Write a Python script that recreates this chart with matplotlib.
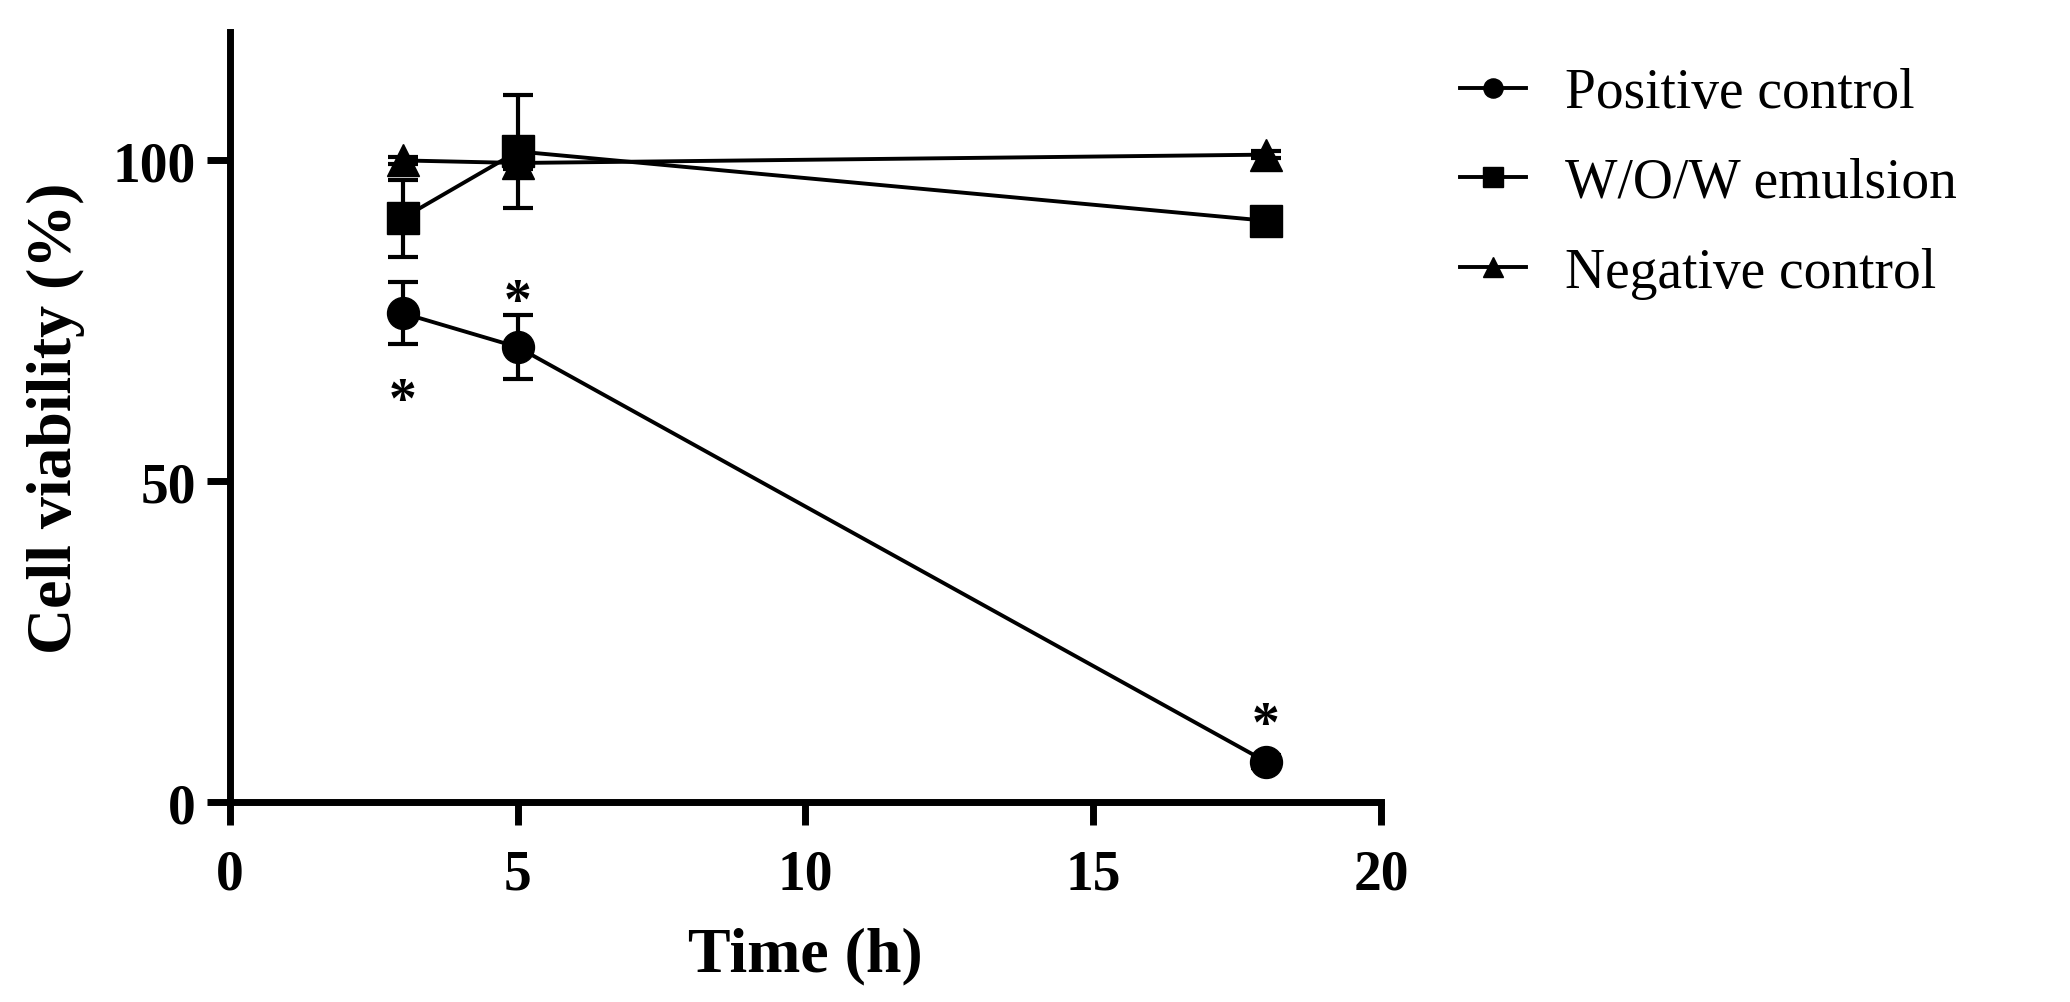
import matplotlib
matplotlib.use("Agg")
import matplotlib.pyplot as plt

# data
time_h = [3, 5, 18]
positive = [76.2, 70.9, 6.3]
positive_err = [4.8, 5.0, 1.0]
emulsion = [91.0, 101.4, 90.6]
emulsion_err = [6.0, 8.8, 1.0]
negative = [100.0, 99.6, 100.9]
negative_err = [0.5, 1.0, 0.5]
labels = ["Positive control", "W/O/W emulsion", "Negative control"]
star_x = [3, 5, 18]
star_y = [64.3, 79.8, 13.8]

plt.rcParams['font.family'] = ['Liberation Serif', 'DejaVu Serif']

fig = plt.figure(figsize=(20.7, 10.03), dpi=100)
ax = fig.add_axes([0.1111, 0.1994, 0.5560, 0.7676])

series = [(positive, positive_err, 'o'), (emulsion, emulsion_err, 's'), (negative, negative_err, '^')]
for (vals, errs, mk), lab in zip(series, labels):
    ax.errorbar(time_h, vals, yerr=errs, fmt='none', ecolor='black',
                elinewidth=3, capsize=11, capthick=3, zorder=2)
    ax.plot(time_h, vals, color='black', linewidth=2.8, marker=mk,
            markersize=23, markerfacecolor='black', markeredgecolor='black',
            label=lab, zorder=3)

# significance marks
for sx, sy in zip(star_x, star_y):
    ax.annotate('*', (sx, sy), xytext=(0, -9), textcoords='offset points',
                ha='center', va='center', fontsize=40, fontweight='bold')

ax.set_xlim(0, 20)
ax.set_ylim(0, 120)
ax.set_xticks([0, 5, 10, 15, 20])
ax.set_yticks([0, 50, 100])

for side in ['top', 'right']:
    ax.spines[side].set_visible(False)
for side in ['left', 'bottom']:
    ax.spines[side].set_linewidth(5)

ax.tick_params(axis='both', direction='out', length=16.5, width=5, labelsize=40)
ax.tick_params(axis='x', pad=17)
ax.tick_params(axis='y', pad=8)
for t in ax.get_xticklabels() + ax.get_yticklabels():
    t.set_fontweight('bold')

ax.set_xlabel('Time (h)', fontsize=46, fontweight='bold', labelpad=19)
ax.set_ylabel('Cell viability (%)', fontsize=46, fontweight='bold', labelpad=20)

ax.legend(loc='upper left', bbox_to_anchor=(0.681, 0.982), bbox_transform=fig.transFigure,
          frameon=False, fontsize=40, markerscale=0.6, handlelength=1.2,
          handletextpad=0.7, labelspacing=0.68)

fig.savefig('out.png', dpi=100)
